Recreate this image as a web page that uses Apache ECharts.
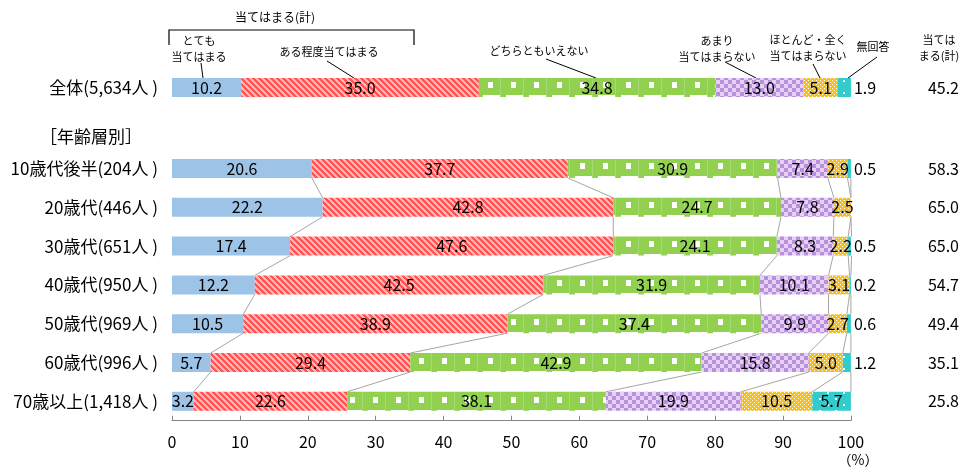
<!DOCTYPE html>
<html>
<head>
<meta charset="utf-8">
<script src="https://cdn.jsdelivr.net/npm/echarts@6/dist/echarts.min.js"></script>
<style>
  html, body { margin: 0; padding: 0; background: #fff; }
  #chart { width: 962px; height: 467px; }
</style>
</head>
<body>
<div id="chart"></div>
<script>
// Row labels: first row is the overall total, the rest are age groups
const overallLabel = '全体(5,634人 )';
const ageLabels = [
  '10歳代後半(204人 )', '20歳代(446人 )', '30歳代(651人 )', '40歳代(950人 )',
  '50歳代(969人 )', '60歳代(996人 )', '70歳以上(1,418人 )'
];
const seriesNames = [
  'とても当てはまる', 'ある程度当てはまる', 'どちらともいえない',
  'あまり当てはまらない', 'ほとんど・全く当てはまらない', '無回答'
];
// Percentages per row: [全体, 10歳代後半, 20歳代, 30歳代, 40歳代, 50歳代, 60歳代, 70歳以上]
const veryMuch = [10.2, 20.6, 22.2, 17.4, 12.2, 10.5, 5.7, 3.2];
const somewhat = [35.0, 37.7, 42.8, 47.6, 42.5, 38.9, 29.4, 22.6];
const neither  = [34.8, 30.9, 24.7, 24.1, 31.9, 37.4, 42.9, 38.1];
const notMuch  = [13.0, 7.4, 7.8, 8.3, 10.1, 9.9, 15.8, 19.9];
const notAtAll = [5.1, 2.9, 2.5, 2.2, 3.1, 2.7, 5.0, 10.5];
const noAnswer = [1.9, 0.5, null, 0.5, 0.2, 0.6, 1.2, 5.7];
const xTicks = { min: 0, max: 100, interval: 10 };

const groups = [veryMuch, somewhat, neither, notMuch, notAtAll, noAnswer];
// 当てはまる(計) = とても + ある程度
const applies = veryMuch.map((v, i) => (v + somewhat[i]).toFixed(1));

const FONT = '"Liberation Sans Narrow", "Noto Sans CJK JP", sans-serif';
const JP = '"Noto Sans CJK JP", sans-serif';
const BAR = 19;

// Layout of the two plot areas (overall row / age rows)
const GRID0 = { top: 68.5, height: 38 };      // bar top at 78
const GRID1 = { top: 149.1, height: 271.6 };  // rows every 38.8px, first bar top at 159

function tile(w, h, draw) {
  const c = document.createElement('canvas');
  c.width = w; c.height = h;
  const g = c.getContext('2d');
  draw(g);
  return { image: c, repeat: 'repeat' };
}
function px(g, color, x, y, w, h) { g.fillStyle = color; g.fillRect(x, y, w || 1, h || 1); }

// green "grid" fill: a white square in each cell and a white strip along the bar's lower edge
function greenTile(phase) {
  return tile(23, 39, g => {
    px(g, '#92D050', 0, 0, 23, 39);
    px(g, '#A7D977', 17, 0, 1, 39);
    for (let r = 0; r < 39; r++) {
      const rel = (r - phase + 39) % 39;
      if (rel >= 4 && rel < 10) px(g, '#FFFFFF', 5, r, 5, 1);
      if (rel >= 17 && rel < 19) px(g, '#FFFFFF', 0, r, 17, 1);
    }
  });
}

const common = [
  '#9DC3E6',
  tile(6, 6, g => {
    for (let y = 0; y < 6; y++) for (let x = 0; x < 6; x++)
      px(g, ((x - y + 12) % 6) < 3 ? '#FF5252' : '#FFB8B8', x, y);
  }),
  null,
  tile(8, 8, g => {
    for (let y = 0; y < 2; y++) for (let x = 0; x < 2; x++)
      px(g, (x + y) % 2 ? '#E4D2F4' : '#BC8FDD', x * 4, y * 4, 4, 4);
  }),
  tile(4, 4, g => {
    px(g, '#FFC000', 0, 0, 4, 4);
    px(g, '#FFFFFF', 0, 0);
    px(g, '#FFFFFF', 2, 2);
  }),
  tile(16, 12, g => {
    px(g, '#33CCCC', 0, 0, 16, 12);
    px(g, '#FFFFFF', 3, 2, 2, 2);
    px(g, '#FFFFFF', 11, 8, 2, 2);
  })
];
const fills0 = common.slice(); fills0[2] = greenTile(78 % 39);
const fills1 = common.slice(); fills1[2] = greenTile(159 % 39);

function labelFor(seriesIdx, v) {
  if (v == null || v === 0) return { show: false };
  if (seriesIdx === 5 && v < 2) return { show: true, position: 'right', distance: 3 };
  return { show: true, position: 'inside' };
}

const baseLabel = {
  color: '#000', fontSize: 16, fontFamily: FONT,
  formatter: p => (p.value == null ? '' : Number(p.value).toFixed(1))
};

const series = [];
groups.forEach((arr, s) => {
  // overall row (grid 0)
  series.push({
    type: 'bar', name: seriesNames[s], stack: 'all', xAxisIndex: 0, yAxisIndex: 0,
    barWidth: BAR, itemStyle: { color: fills0[s] }, label: baseLabel,
    data: [{ value: arr[0], label: labelFor(s, arr[0]) }],
    silent: true
  });
  // age groups (grid 1)
  series.push({
    type: 'bar', name: seriesNames[s], stack: 'age', xAxisIndex: 1, yAxisIndex: 2,
    barWidth: BAR, itemStyle: { color: fills1[s] }, label: baseLabel,
    data: arr.slice(1).map(v => ({ value: v, label: labelFor(s, v) })),
    silent: true
  });
});

// Series lines joining segment boundaries of neighbouring age rows
const links = [];
for (let r = 0; r < ageLabels.length - 1; r++) {
  let cumA = 0, cumB = 0;
  for (let k = 0; k < groups.length; k++) {
    cumA += groups[k][r + 1] || 0;
    cumB += groups[k][r + 2] || 0;
    links.push([cumA, r, cumB, r + 1]);
  }
}
series.push({
  type: 'custom', xAxisIndex: 1, yAxisIndex: 2, silent: true, z: 1,
  encode: { x: [0, 2], y: [1, 3] },
  data: links,
  renderItem: (params, api) => {
    const a = api.coord([api.value(0), api.value(1)]);
    const b = api.coord([api.value(2), api.value(3)]);
    return {
      type: 'line',
      shape: { x1: a[0], y1: a[1] + BAR / 2, x2: b[0], y2: b[1] - BAR / 2 },
      style: { stroke: '#A6A6A6', lineWidth: 1 }
    };
  }
});

const catAxis = (data, extra) => Object.assign({
  type: 'category', data, inverse: true,
  axisLine: { show: false }, axisTick: { show: false },
  axisLabel: { color: '#000', fontSize: 17, fontFamily: FONT, margin: 14 }
}, extra);

const totalsAxis = (offset, gridIndex, data) => catAxis(data, {
  gridIndex, position: 'right',
  axisLabel: {
    color: '#000', fontSize: 16, fontFamily: FONT, margin: 77,
    formatter: (v, i) => applies[i + offset]
  }
});

const txt = (x, y, text, size, align) => ({
  type: 'text', x, y,
  style: { text, fill: '#000', font: `${size || 11}px ${JP}`, align: align || 'center', verticalAlign: 'middle', lineHeight: 16 }
});
const ln = (x1, y1, x2, y2) => ({
  type: 'line', shape: { x1, y1, x2, y2 }, style: { stroke: '#000', lineWidth: 1 }
});

const option = {
  animation: false,
  backgroundColor: '#fff',
  grid: [
    Object.assign({ left: 172, right: 111 }, GRID0),
    Object.assign({ left: 172, right: 111 }, GRID1)
  ],
  xAxis: [
    Object.assign({ type: 'value', gridIndex: 0, show: false }, xTicks),
    Object.assign({
      type: 'value', gridIndex: 1,
      axisLine: { show: true, lineStyle: { color: '#868686' } },
      axisTick: { show: true, inside: true, length: 5, lineStyle: { color: '#868686' } },
      splitLine: { show: false },
      axisLabel: { color: '#000', fontSize: 16, fontFamily: FONT, margin: 13 }
    }, xTicks)
  ],
  yAxis: [
    catAxis([overallLabel], { gridIndex: 0 }),
    totalsAxis(0, 0, [overallLabel]),
    catAxis(ageLabels, { gridIndex: 1 }),
    totalsAxis(1, 1, ageLabels)
  ],
  series,
  graphic: [
    txt(40, 137, '［年齢層別］', 17, 'left'),
    // bracket over the two "applies" categories
    { type: 'polyline', shape: { points: [[169, 45], [169, 30], [414, 30], [414, 45]] },
      style: { stroke: '#000', lineWidth: 1.2, fill: null } },
    txt(275, 17, '当てはまる(計)', 12),
    txt(199, 49, 'とても\n当てはまる'), ln(201, 63, 203, 78),
    txt(329, 52, 'ある程度当てはまる'), ln(327, 61, 354, 78),
    txt(539, 51, 'どちらともいえない'), ln(546, 59, 596, 78),
    txt(717, 49, 'あまり\n当てはまらない'), ln(725, 62, 756, 78),
    txt(808, 48, 'ほとんど・全く\n当てはまらない'), ln(813, 64, 820, 78),
    txt(873, 47, '無回答'), ln(877, 57, 848, 78),
    txt(939, 48, '当ては\nまる(計)'),
    { type: 'text', x: 858, y: 460,
      style: { text: '（%）', fill: '#000', font: `14px ${JP}`, align: 'center', verticalAlign: 'middle' } }
  ]
};

const chart = echarts.init(document.getElementById('chart'), null, { renderer: 'canvas' });
chart.setOption(option);
</script>
</body>
</html>
